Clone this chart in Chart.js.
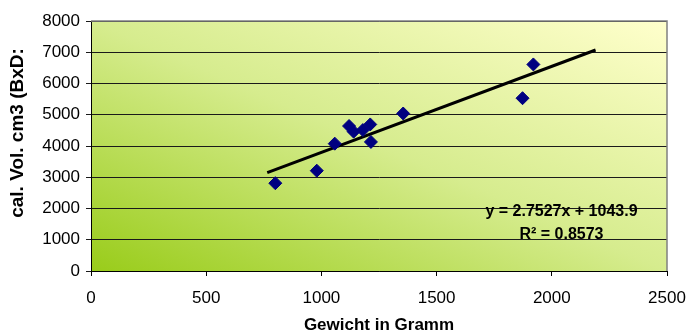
<!DOCTYPE html>
<html>
<head>
<meta charset="utf-8">
<script src="https://cdn.jsdelivr.net/npm/chart.js@4/dist/chart.umd.min.js"></script>
<style>
  html, body { margin: 0; padding: 0; background: #fff; }
  #wrap { width: 688px; height: 336px; }
</style>
</head>
<body>
<div id="wrap"><canvas id="chart" width="688" height="336"></canvas></div>
<script>
// measured points (Gewicht in g / cal. Vol. in cm3)
const gewicht = [800, 980, 1058, 1120, 1140, 1180, 1212, 1215, 1355, 1873, 1920];
const volumen = [2810, 3210, 4075, 4640, 4460, 4510, 4690, 4130, 5040, 5530, 6610];

// linear trendline ends
const trendX = [765, 2190];
const trendY = [3150, 7072];

const eqText = 'y = 2.7527x + 1043.9';
const r2Text = 'R² = 0.8573';
const yTitle = 'cal. Vol. cm3 (BxD:';
const xTitle = 'Gewicht in Gramm';

const FONT = 'Arial, "Liberation Sans", sans-serif';

const points = gewicht.map((g, i) => ({ x: g, y: volumen[i] }));
const trend = trendX.map((t, i) => ({ x: t, y: trendY[i] }));

const bgPlugin = {
  id: 'bg',
  beforeDraw(chart) {
    const { ctx, chartArea: a } = chart;
    ctx.save();
    ctx.translate(a.left, a.top);
    ctx.scale(a.right - a.left, a.bottom - a.top);
    const g = ctx.createLinearGradient(0, 1, 1, 0);
    g.addColorStop(0, '#99cc1a');
    g.addColorStop(0.5, '#d6ec8e');
    g.addColorStop(1, '#ffffcc');
    ctx.fillStyle = g;
    ctx.fillRect(0, 0, 1, 1);
    ctx.restore();
  },
  afterDraw(chart) {
    const { ctx, chartArea: a, scales } = chart;
    ctx.save();
    // grey frame on top and right
    ctx.strokeStyle = '#808080';
    ctx.lineWidth = 1.5;
    ctx.beginPath();
    ctx.moveTo(a.left, a.top);
    ctx.lineTo(a.right, a.top);
    ctx.lineTo(a.right, a.bottom);
    ctx.stroke();

    // y axis title
    ctx.fillStyle = '#000';
    ctx.font = 'bold 19px ' + FONT;
    ctx.textAlign = 'center';
    ctx.textBaseline = 'middle';
    ctx.translate(18, 133);
    ctx.rotate(-Math.PI / 2);
    ctx.fillText(yTitle, 0, 0);
    ctx.restore();

    // trendline equation
    ctx.save();
    ctx.fillStyle = '#000';
    ctx.font = 'bold 16px ' + FONT;
    ctx.textAlign = 'center';
    ctx.textBaseline = 'middle';
    const ex = scales.x.getPixelForValue(2042);
    ctx.fillText(eqText, ex, scales.y.getPixelForValue(1890));
    ctx.fillText(r2Text, ex, scales.y.getPixelForValue(1150));
    ctx.restore();
  }
};

new Chart(document.getElementById('chart'), {
  type: 'scatter',
  data: {
    datasets: [
      {
        label: 'Messwerte',
        data: points,
        pointStyle: 'rectRot',
        pointRadius: 6.5,
        pointBackgroundColor: '#000080',
        pointBorderColor: '#000080',
        pointBorderWidth: 1,
        order: 1
      },
      {
        label: 'Trend',
        type: 'line',
        data: trend,
        borderColor: '#000',
        borderWidth: 3,
        pointRadius: 0,
        fill: false,
        order: 2
      }
    ]
  },
  plugins: [bgPlugin],
  options: {
    responsive: false,
    animation: false,
    layout: { padding: { top: 21, right: 21, left: 0, bottom: 0 } },
    plugins: {
      legend: { display: false },
      tooltip: { enabled: false }
    },
    scales: {
      x: {
        type: 'linear',
        min: 0,
        max: 2500,
        afterFit(s) {
          s.height = 65;
          s.paddingLeft = 0;
          s.paddingRight = 0;
        },
        ticks: {
          stepSize: 500,
          color: '#000',
          padding: 12,
          callback: (v) => String(v),
          font: { family: FONT, size: 17 }
        },
        grid: {
          drawOnChartArea: false,
          drawTicks: true,
          tickLength: 5,
          color: '#000'
        },
        border: { color: '#000', width: 1 },
        title: {
          display: true,
          text: xTitle,
          color: '#000',
          padding: 0,
          font: { family: FONT, size: 17, weight: 'bold' }
        }
      },
      y: {
        type: 'linear',
        min: 0,
        max: 8000,
        afterFit(s) { s.width = 91; },
        ticks: {
          stepSize: 1000,
          color: '#000',
          padding: 6,
          callback: (v) => String(v),
          font: { family: FONT, size: 17 }
        },
        grid: {
          color: '#1a1a1a',
          lineWidth: 1,
          tickLength: 5
        },
        border: { color: '#000', width: 1 }
      }
    }
  }
});
</script>
</body>
</html>
